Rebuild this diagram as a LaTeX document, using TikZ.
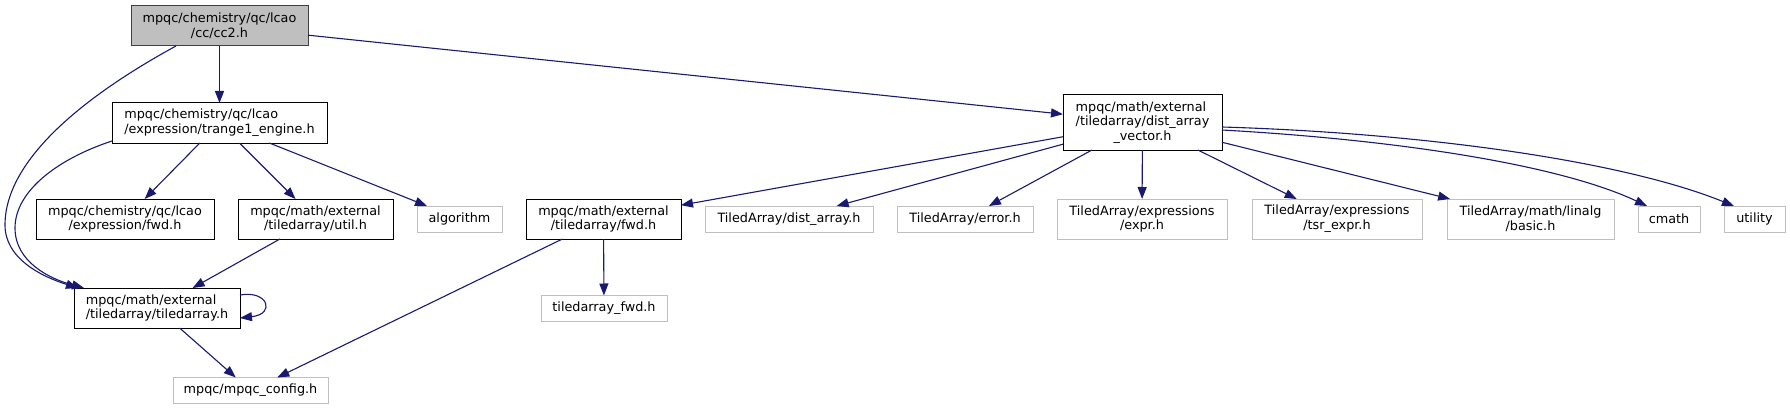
\documentclass[tikz,border=0pt]{standalone}
\usepackage{fontspec}
\setmainfont{DejaVu Sans}
\usetikzlibrary{arrows.meta}
\definecolor{edgeblue}{HTML}{191970}
\definecolor{boxgray}{HTML}{BFBFBF}
\definecolor{mainborder}{HTML}{404040}
\newcommand\firstline[2]{\rlap{#1}\phantom{#2}}
\begin{document}
\begin{tikzpicture}[x=1pt,y=-1pt,
  font=\fontsize{12.8}{14.8}\selectfont,
  box/.style={draw=black, line width=1pt, inner sep=0pt, outer sep=0pt, align=center, fill=white},
  gbox/.style={box, draw=boxgray},
  mainbox/.style={box, fill=boxgray, draw=mainborder},
  edge/.style={draw=edgeblue, line width=1.1pt, -{Triangle[length=12pt,width=9pt]}}]
\useasboundingbox (0,0) rectangle (1790,409);
% nodes
\node[mainbox, minimum width=177pt, minimum height=40pt] (cc2) at (219.5,26) {mpqc/chemistry/qc/lcao\\/cc/cc2.h};
\node[box, minimum width=215pt, minimum height=40pt] (trange) at (219.5,123) {\firstline{mpqc/chemistry/qc/lcao}{/expression/trange1\_engine.h}\\/expression/trange1\_engine.h};
\node[box, minimum width=178pt, minimum height=40pt] (lcaofwd) at (125,219) {mpqc/chemistry/qc/lcao\\/expression/fwd.h};
\node[box, minimum width=155pt, minimum height=40pt] (util) at (315.5,219) {mpqc/math/external\\/tiledarray/util.h};
\node[gbox, minimum width=85pt, minimum height=26pt] (algorithm) at (459.5,219) {algorithm};
\node[box, minimum width=166pt, minimum height=40pt] (tiledarray) at (157,308) {\firstline{mpqc/math/external}{/tiledarray/tiledarray.h}\\/tiledarray/tiledarray.h};
\node[gbox, minimum width=155pt, minimum height=26pt] (config) at (250.5,390.5) {mpqc/mpqc\_config.h};
\node[box, minimum width=159pt, minimum height=55pt] (dav) at (1142.5,122.5) {\firstline{mpqc/math/external}{/tiledarray/dist\_array}\\/tiledarray/dist\_array\\\_vector.h};
\node[box, minimum width=155pt, minimum height=40pt] (dfwd) at (603.5,219) {mpqc/math/external\\/tiledarray/fwd.h};
\node[gbox, minimum width=126pt, minimum height=26pt] (tafwd) at (604,308.5) {tiledarray\_fwd.h};
\node[gbox, minimum width=168pt, minimum height=26pt] (distarray) at (789,219) {TiledArray/dist\_array.h};
\node[gbox, minimum width=136pt, minimum height=26pt] (error) at (965,219) {TiledArray/error.h};
\node[gbox, minimum width=170pt, minimum height=40pt] (expr) at (1142,219) {TiledArray/expressions\\/expr.h};
\node[gbox, minimum width=170pt, minimum height=40pt] (tsr) at (1337,219) {TiledArray/expressions\\/tsr\_expr.h};
\node[gbox, minimum width=167pt, minimum height=40pt] (basic) at (1530.5,219) {TiledArray/math/linalg\\/basic.h};
\node[gbox, minimum width=62pt, minimum height=26pt] (cmath) at (1669,219) {cmath};
\node[gbox, minimum width=61pt, minimum height=26pt] (utility) at (1754.5,219) {utility};
% edges from cc2
\draw[edge] (cc2) -- (trange);
\draw[edge] (cc2) -- (dav);
\draw[edge] ([xshift=45pt]cc2.south west) .. controls +(-66,36) and +(0,-75) .. (5,225)
  .. controls +(0,33) and +(-38,-12) .. ([xshift=4pt]tiledarray.north west);
% edges from trange
\draw[edge] (trange) -- (lcaofwd);
\draw[edge] (trange) -- (util);
\draw[edge] (trange) -- (algorithm);
\draw[edge] ([yshift=2pt]trange.south west) .. controls +(-52,17) and +(0,-38) .. (15,228)
  .. controls +(0,34) and +(-34,-9) .. ([xshift=10pt]tiledarray.north west);
% others
\draw[edge] (util) -- (tiledarray);
\draw[edge] (tiledarray) -- (config);
\draw[edge] ([yshift=-7pt]tiledarray.north east) .. controls +(28,-5) and +(36,-4) .. ([yshift=-30pt]tiledarray.north east);
% edges from dav
\draw[edge] (dav) -- (dfwd);
\draw[edge] (dav) -- (distarray);
\draw[edge] (dav) -- (error);
\draw[edge] (dav) -- (expr);
\draw[edge] (dav) -- (tsr);
\draw[edge] (dav) -- (basic);
\draw[edge] ([yshift=-35pt]dav.north east) .. controls +(178,10) and +(-87,-41) .. ([xshift=9pt]cmath.north west);
\draw[edge] ([yshift=-32pt]dav.north east) .. controls +(198,6) and +(-114,-46) .. ([xshift=10pt]utility.north west);
% dfwd
\draw[edge] (dfwd) -- (tafwd);
\draw[edge] (dfwd) -- (config);
\end{tikzpicture}
\end{document}
